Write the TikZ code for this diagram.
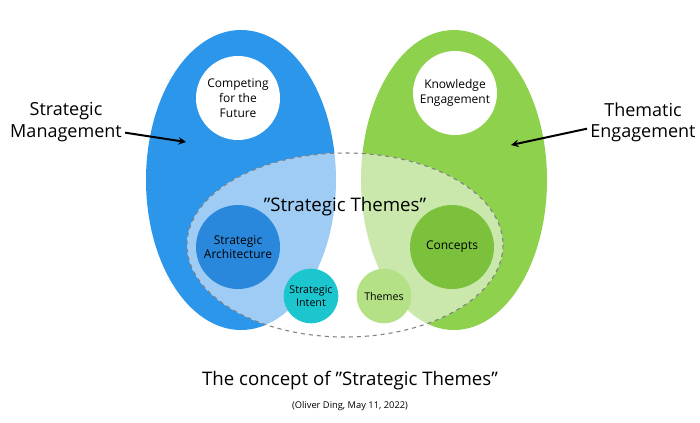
\documentclass[tikz,border=0pt]{standalone}
\usepackage{fontspec}
\setmainfont{Open Sans}
\begin{document}
\begin{tikzpicture}[x=0.75pt,y=-0.75pt,
  circ/.style={circle,inner sep=0pt,align=center,font=\fontsize{9}{11}\selectfont},
  side/.style={align=center,font=\fontsize{13.5}{16}\selectfont},
  arr/.style={-stealth,line width=1.5pt}]
\useasboundingbox (0,0) rectangle (700,422);
\definecolor{bl}{HTML}{2C96EA}\definecolor{gr}{HTML}{8DD14D}
\definecolor{lbl}{HTML}{9FCCF5}\definecolor{lgr}{HTML}{CBE8AC}
\definecolor{dbl}{HTML}{2A88DC}\definecolor{dgr}{HTML}{7BC13C}
\definecolor{teal}{HTML}{1CC6CF}\definecolor{tgr}{HTML}{B4E086}
\fill[bl] (241,180) ellipse [x radius=95,y radius=150];
\fill[gr] (454,180) ellipse [x radius=93,y radius=150];
\begin{scope}
\clip (345,245) ellipse [x radius=158,y radius=92];
\fill[white] (345,245) ellipse [x radius=158,y radius=92];
\fill[lbl] (241,180) ellipse [x radius=95,y radius=150];
\fill[lgr] (454,180) ellipse [x radius=93,y radius=150];
\end{scope}
\draw[gray,dashed,line width=0.8pt] (345,245) ellipse [x radius=158,y radius=92];
\node[circ,fill=white,minimum size=63pt] (cf) at (238,98) {Competing\\for the\\Future};
\node[circ,fill=white,minimum size=63pt] (ke) at (455,93) {Knowledge\\Engagement};
\node[circ,fill=dbl,minimum size=63pt] (sa) at (238,247) {Strategic\\Architecture};
\node[circ,fill=dgr,minimum size=63pt] (co) at (452,247) {Concepts};
\node[circ,fill=teal,minimum size=41pt,font=\fontsize{8}{9.5}\selectfont] (si) at (311,296) {Strategic\\Intent};
\node[circ,fill=tgr,minimum size=41pt,font=\fontsize{8}{9.5}\selectfont] (th) at (384,296) {Themes};
\node[font=\fontsize{14}{16}\selectfont] (st) at (345,207) {\symbol{34}Strategic Themes\symbol{34}};
\node[side] (sm) at (66,122) {Strategic\\Management};
\node[side] (te) at (643,122) {Thematic\\Engagement};
\coordinate (a1) at (186,142); \coordinate (a2) at (511,145);
\draw[arr] ([xshift=-1pt,yshift=-8pt]sm.east) -- (a1);
\draw[arr] ([xshift=1pt,yshift=-5pt]te.west) -- (a2);
\node[font=\fontsize{14}{16}\selectfont] (t) at (350,381) {The concept of \symbol{34}Strategic Themes\symbol{34}};
\node[font=\fontsize{7}{8}\selectfont] (s) at (350,406) {(Oliver Ding, May 11, 2022)};
\end{tikzpicture}
\end{document}
